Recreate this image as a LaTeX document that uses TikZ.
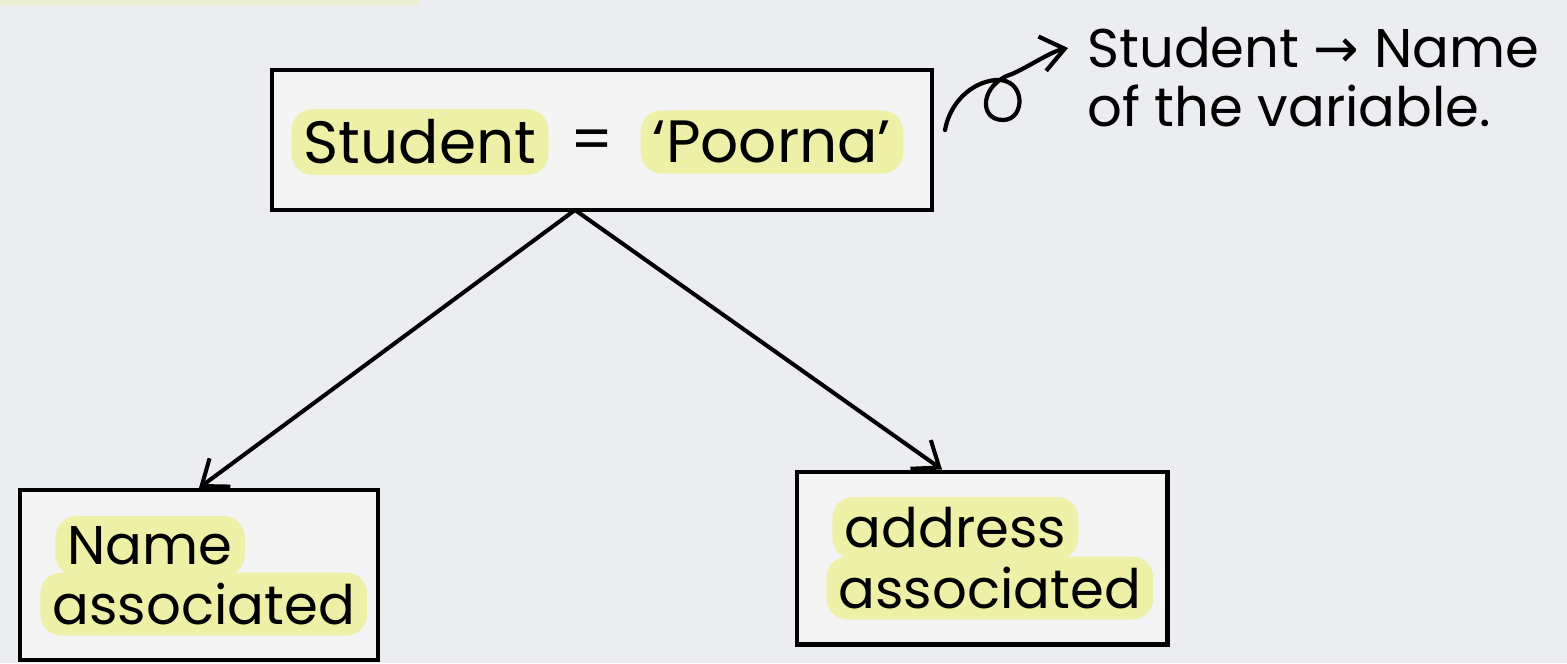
\documentclass[tikz,border=0pt]{standalone}
\usepackage{fontspec}
\setmainfont{Poppins}
\newfontfamily\arrowfont{DejaVu Sans}
\usetikzlibrary{arrows.meta, positioning, calc}
\definecolor{paper}{HTML}{ECEDF1}
\definecolor{card}{HTML}{F4F4F5}
\definecolor{marker}{HTML}{EEF0A8}
\tikzset{%
	var box/.style={
		draw,
		line width=2.3pt,
		fill=card,
		inner sep=0pt
	},
	glow/.style={
		fill=marker,
		rounded corners=12pt,
		inner xsep=7pt,
		inner ysep=6pt,
		font=\fontsize{34}{38}\selectfont
	},
	small glow/.style={
		glow,
		font=\fontsize{31}{36}\selectfont
	},
	plain/.style={
		inner sep=0pt,
		font=\fontsize{34}{38}\selectfont
	},
	note/.style={
		inner ysep=0pt,
		inner xsep=0.38cm,
		font=\fontsize{31}{35}\selectfont
	},
}

\begin{document}
\begin{tikzpicture}[x=0.02cm, y=-0.02cm, >={Straight Barb[length=13pt, width=20pt]}]
			
			\fill [paper] (0,0) rectangle (1567,663);
			\useasboundingbox (0,0) rectangle (1567,663);
			\fill [marker, opacity=0.45] (0,0) rectangle (420,5);
			
			\node [var box, minimum width=13.2cm, minimum height=2.8cm] (var) at (602,140) {};
			\node [glow] (student) at (420,142) {Student};
			\node [plain] (equals) at (592,145) {=};
			\node [glow] (value) at (772,142) {‘Poorna’};
			
			\node [var box, minimum width=7.16cm, minimum height=3.4cm] (name) at (199,575) {};
			\node [var box, minimum width=7.42cm, minimum height=3.46cm] (addr) at (982,558) {};
			
			\foreach \t/\x/\y [count=\i] in {Name/55/546, associated/40/604}
			\node [small glow, anchor=west] (name-\i) at (\x,\y) {\t};
			
			\foreach \t/\x/\y [count=\i] in {address/832/528, associated/826/588}
			\node [small glow, anchor=west] (addr-\i) at (\x,\y) {\t};
			
			\node [note, anchor=west] (note-1) at (1068,48) {Student {\arrowfont →} Name};
			\node [note, anchor=west] (note-2) at (1068,106) {of the variable.};
			
			\coordinate (split) at (575,210);
			\coordinate (curl) at (945,130);
			
			\draw [->, line width=2.3pt] (split) -- (name.north);
			\draw [->, line width=2.3pt] (split) -- ($(addr.north)+(-40,0)$);
			
			\draw [->, line width=2.4pt, line cap=round] (curl)
			.. controls (950,102) and (972,82) .. (996,80)
			.. controls (1026,78) and (1026,120) .. (1003,120)
			.. controls (978,120) and (980,84) .. (1012,74)
			.. controls (1030,66) and (1050,52) .. (note-1.west);
			
		\end{tikzpicture}
\end{document}
